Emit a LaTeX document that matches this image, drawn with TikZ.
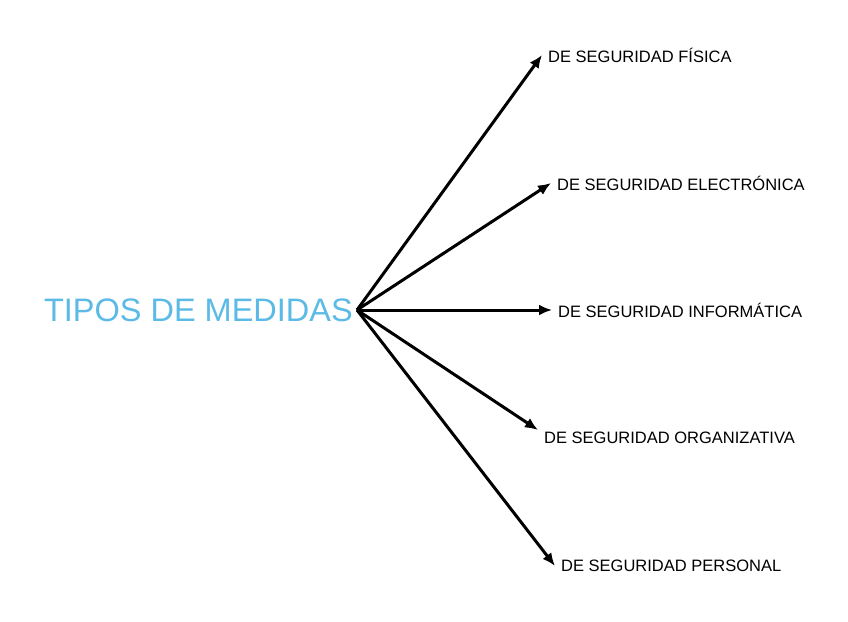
\documentclass[tikz,border=0pt]{standalone}
\usepackage{fontspec}
\setmainfont{Liberation Sans}
\usepackage{xcolor}
\usetikzlibrary{arrows.meta, positioning}
\definecolor{titleblue}{RGB}{92,186,230}

\begin{document}
\begin{tikzpicture}[x=1pt, y=-1pt,
        medida/.style={anchor=west, inner sep=6pt, font=\fontsize{16.5}{19}\selectfont},
        flecha/.style={-{Latex[length=13pt, width=11pt]}, line width=3pt}]
            \useasboundingbox[fill=white] (0,0) rectangle (848,621);

            % titulo
            \coordinate (hub) at (357,310);
            \node[anchor=east, inner sep=4pt, text=titleblue, font=\fontsize{32.5}{36}\selectfont] (tipos) at (hub) {TIPOS DE MEDIDAS};

            % tipos
            \node[medida] (fisica)  at (542,55)  {DE SEGURIDAD FÍSICA};
            \node[medida] (electro) at (551,183) {DE SEGURIDAD ELECTRÓNICA};
            \node[medida] (inform)  at (552,310) {DE SEGURIDAD INFORMÁTICA};
            \node[medida] (organiz) at (538,438) {DE SEGURIDAD ORGANIZATIVA};
            \node[medida] (person)  at (555,566) {DE SEGURIDAD PERSONAL};

            \draw[flecha] (hub) -- (fisica.west);
            \draw[flecha] (hub) -- (electro.west);
            \draw[flecha] (hub) -- (inform.west);
            \draw[flecha] (hub) -- ([yshift=8pt]organiz.west);
            \draw[flecha] (hub) -- (person.west);
        \end{tikzpicture}
\end{document}
